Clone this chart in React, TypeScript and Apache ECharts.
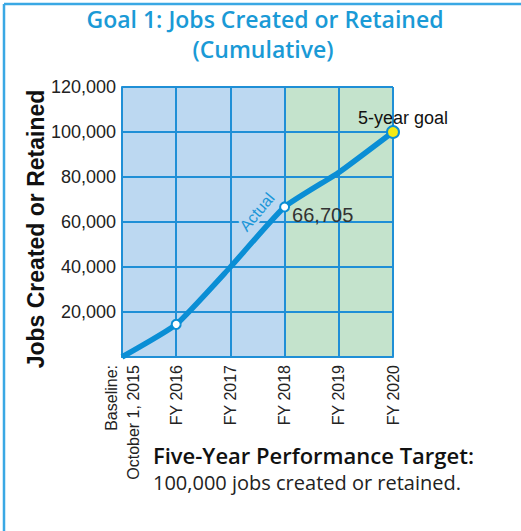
import React, { useEffect, useRef } from "react";
import * as echarts from "echarts";

const categories = ["Baseline:\nOctober 1, 2015", "FY 2016", "FY 2017", "FY 2018", "FY 2019", "FY 2020"];
const jobsValues = [0, 14500, 40000, 66705, 82000, 100000];
const markerShown = [false, true, false, true, false, true];
const yTicks = { min: 0, max: 120000, interval: 20000 };
const titleLines = ["Goal 1: Jobs Created or Retained", "(Cumulative)"];
const yAxisTitle = "Jobs Created or Retained";
const footerLines = ["Five-Year Performance Target:", "100,000 jobs created or retained."];

const LINE = "#0a8ed5";
const GRID = "#1f8fd6";

export default function App() {
  const ref = useRef<HTMLDivElement>(null);
  useEffect(() => {
    if (!ref.current) return;
    const chart = echarts.init(ref.current, undefined, { renderer: "svg" });
    const lineData = jobsValues.map((v, i) => {
      const last = i === jobsValues.length - 1;
      const item: any = { value: v, symbol: markerShown[i] ? "circle" : "none" };
      if (last) {
        item.symbolSize = 12;
        item.itemStyle = { color: "#f4ea16", borderColor: LINE, borderWidth: 2 };
        item.label = {
          show: true, position: "top", distance: 4, offset: [10, 6],
          formatter: "5-year goal", fontSize: 18, color: "#111",
          fontFamily: "Liberation Sans",
        };
      }
      if (v === 66705) {
        item.label = {
          show: true, position: "right", distance: 4, offset: [-2, 8],
          formatter: "66,705", fontSize: 20, color: "#333",
          fontFamily: "Liberation Sans",
        };
      }
      return item;
    });
    chart.setOption({
      animation: false,
      grid: { left: 122, top: 87, width: 271, height: 270, containLabel: false },
      xAxis: {
        type: "category",
        data: categories,
        boundaryGap: false,
        z: 3,
        axisLine: { lineStyle: { color: GRID, width: 2 } },
        axisTick: { show: false },
        splitLine: { show: true, lineStyle: { color: GRID, width: 2 } },
        axisLabel: {
          rotate: 90, margin: 8, fontSize: 16, color: "#222",
          fontFamily: "Liberation Sans", lineHeight: 22, interval: 0,
          padding: [0, 0, 6, 0],
        },
      },
      yAxis: {
        type: "value",
        min: yTicks.min, max: yTicks.max, interval: yTicks.interval,
        z: 3,
        axisLine: { show: true, lineStyle: { color: GRID, width: 2 } },
        axisTick: { show: false },
        splitLine: { show: true, lineStyle: { color: GRID, width: 2 } },
        axisLabel: {
          margin: 6, fontSize: 18, color: "#222", fontFamily: "Liberation Sans",
          formatter: (v: number) => (v === 0 ? "" : v.toLocaleString("en-US")),
        },
      },
      series: [
        {
          type: "line",
          data: jobsValues,
          z: 1,
          silent: true,
          symbol: "none",
          lineStyle: { opacity: 0 },
          markArea: {
            silent: true,
            data: [
              [{ xAxis: categories[0], itemStyle: { color: "#bcd8f1" } }, { xAxis: categories[3] }],
              [{ xAxis: categories[3], itemStyle: { color: "#c4e3cc" } }, { xAxis: categories[5] }],
            ],
          },
        },
        {
          type: "line",
          data: lineData,
          z: 5,
          smooth: 0.15,
          symbolSize: 9,
          lineStyle: { color: LINE, width: 5.5 },
          itemStyle: { color: "#ffffff", borderColor: LINE, borderWidth: 2 },
        },
      ],
      graphic: [
        { type: "line", shape: { x1: 4, y1: 4, x2: 521, y2: 4 }, style: { stroke: "#3aa8e4", lineWidth: 2.5 } },
        { type: "line", shape: { x1: 4, y1: 4, x2: 4, y2: 531 }, style: { stroke: "#3aa8e4", lineWidth: 2.5 } },
        {
          type: "text", x: 265, y: 19,
          style: {
            text: titleLines[0], align: "center", verticalAlign: "middle",
            fill: "#1a9ad6", font: "600 23px 'Open Sans'",
          },
        },
        {
          type: "text", x: 263, y: 49,
          style: {
            text: titleLines[1], align: "center", verticalAlign: "middle",
            fill: "#1a9ad6", font: "600 23px 'Open Sans'",
          },
        },
        {
          type: "text", x: 36, y: 229, rotation: Math.PI / 2,
          style: { text: yAxisTitle, align: "center", verticalAlign: "middle", fill: "#111", font: "bold 23px 'Liberation Sans'" },
        },
        {
          type: "text", x: 257, y: 212, rotation: (50 * Math.PI) / 180, z: 10,
          style: {
            text: "Actual", align: "center", verticalAlign: "middle", fill: "#1a96d8",
            font: "16px 'Liberation Sans'", stroke: "#bcd8f1", lineWidth: 5,
          },
        },
        {
          type: "text", x: 153, y: 455,
          style: { text: footerLines[0], align: "left", verticalAlign: "middle", fill: "#111", font: "600 22px 'Open Sans'" },
        },
        {
          type: "text", x: 153, y: 482,
          style: { text: footerLines[1], align: "left", verticalAlign: "middle", fill: "#222", font: "20px 'Open Sans'" },
        },
      ],
    });
    return () => chart.dispose();
  }, []);
  return <div ref={ref} style={{ position: "fixed", left: 0, top: 0, width: 521, height: 531, background: "#fff" }} />;
}
